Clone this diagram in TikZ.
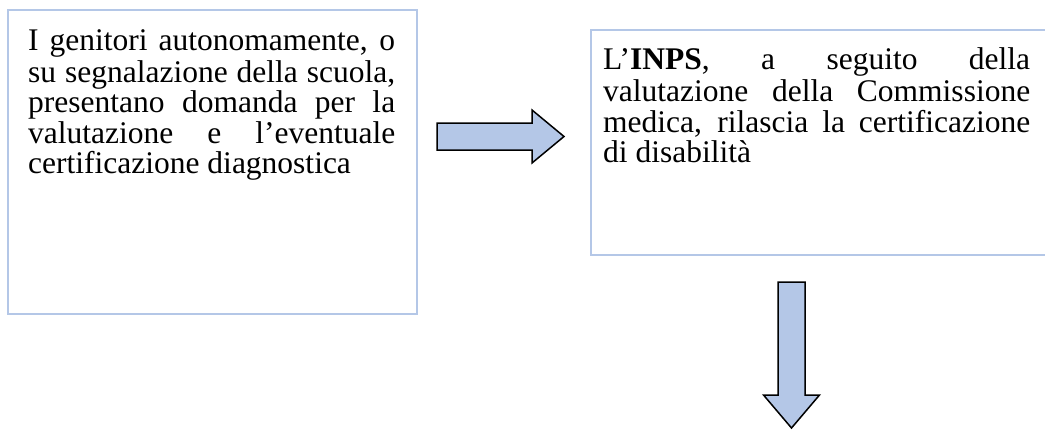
\documentclass[tikz,border=0pt]{standalone}
\usepackage{fontspec}
\setmainfont{Liberation Serif}
\usetikzlibrary{positioning}
\definecolor{boxblue}{RGB}{180,199,231}
\definecolor{arrowblue}{RGB}{180,199,231}
\hyphenpenalty=10000
\hbadness=10000

\tikzset{
  infobox/.style={draw=boxblue, line width=1.5pt, anchor=north west, inner sep=0pt},
  testo/.style={anchor=north west, inner sep=0pt, align=justify, font=\fontsize{31.5}{30.5}\selectfont},
  blockarrow/.style={draw=black, line width=1.5pt, fill=arrowblue, line join=miter}
}

\begin{document}
\begin{tikzpicture}[x=1pt, y=-1pt]
  \useasboundingbox (0,0) rectangle (1045,429);
  \clip (0,0) rectangle (1045,429);
  % riquadri
  \node[infobox, minimum width=409pt, minimum height=304pt] (genitori) at (7,9) {};
  \node[infobox, minimum width=470pt, minimum height=225pt] (inps) at (590,29) {};
  \node[testo, text width=367pt, below right=19.5pt and 21pt of genitori.north west] (genitoritxt)
    {\strut I genitori autonomamente, o\linebreak su segnalazione della scuola,\linebreak presentano domanda per la\linebreak valutazione e l’eventuale\linebreak certificazione diagnostica};
  \node[testo, text width=427pt, below right=18.5pt and 13pt of inps.north west] (inpstxt)
    {\strut L’\textbf{INPS}, a seguito della\linebreak valutazione della Commissione\linebreak medica, rilascia la certificazione\linebreak di disabilità};
  % frecce
  \draw[blockarrow] (437,123) -- (532,123) -- (532,110) -- (564,136.5) -- (532,163) -- (532,150) -- (437,150) -- cycle;
  \draw[blockarrow] (778,282) -- (805,282) -- (805,395) -- (819.5,395) -- (791.5,428) -- (763.5,395) -- (778,395) -- cycle;
\end{tikzpicture}
\end{document}
